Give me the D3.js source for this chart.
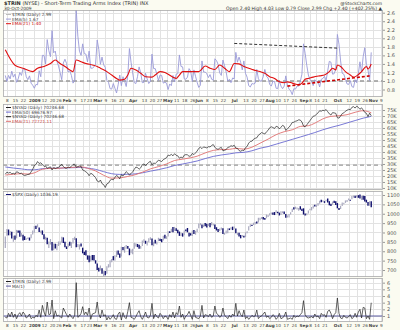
<!DOCTYPE html>
<html><head><meta charset="utf-8">
<script src="https://cdn.jsdelivr.net/npm/d3@7"></script>
<style>html,body{margin:0;padding:0;background:#fff}svg{display:block;font-family:"DejaVu Sans",Verdana,sans-serif}</style>
</head><body><svg id="c" width="400" height="330"></svg>
<script>
// ---------- categories ----------
const holidays = ["2008-12-25","2009-01-01","2009-01-19","2009-02-16","2009-04-10","2009-05-25","2009-07-03","2009-09-07"];
const firstDay = "2008-12-05", lastDataDay = "2009-10-30", lastAxisDay = "2009-11-10";
const tickDates = ["2008-12-08","2008-12-15","2008-12-22","2009-01-02","2009-01-12","2009-01-20","2009-01-26","2009-02-02","2009-02-09","2009-02-17","2009-02-23","2009-03-02","2009-03-09","2009-03-16","2009-03-23","2009-04-01","2009-04-13","2009-04-20","2009-04-27","2009-05-01","2009-05-11","2009-05-18","2009-05-26","2009-06-01","2009-06-08","2009-06-15","2009-06-22","2009-07-01","2009-07-13","2009-07-20","2009-07-27","2009-08-03","2009-08-10","2009-08-17","2009-08-24","2009-09-01","2009-09-08","2009-09-14","2009-09-21","2009-10-01","2009-10-12","2009-10-19","2009-10-26","2009-11-02","2009-11-09"];
const tickLabels = ["8","15","22","2009","12","20","26","Feb","9","17","23","Mar","9","16","23","Apr","13","20","27","May","11","18","26","Jun","8","15","22","Jul","13","20","27","Aug","10","17","24","Sep","8","14","21","Oct","12","19","26","Nov","9"];
const boldLabels = ["2009","Feb","Mar","Apr","May","Jun","Jul","Aug","Sep","Oct","Nov"];

// ---------- panel 1 / 4 : $TRIN ----------
const trinRaw = [0.8,0.7,1.4,0.9,1.6,0.8,1.3,0.6,1.2,1.5,
1.0,1.6,1.3,0.7,0.9,1.3,0.6,0.8,0.7,1.1,
0.9,1.9,0.8,2.6,1.6,1.0,3.1,1.2,1.3,3.4,
0.6,1.8,1.0,1.1,0.9,0.7,2.2,1.7,1.2,0.8,
1.3,0.9,0.6,1.1,6.0,0.8,1.0,1.4,2.4,1.2,
1.6,1.1,2.2,0.5,1.3,1.4,1.5,3.1,1.3,0.7,
1.9,1.0,1.2,0.4,0.9,0.5,0.8,1.2,0.6,0.5,
1.3,1.6,0.4,1.5,0.8,0.6,1.7,3.0,0.8,0.7,
0.5,0.9,1.4,1.8,0.9,0.5,1.0,1.6,0.8,0.7,
1.1,2.9,0.6,1.3,0.9,0.7,1.4,1.1,0.6,1.0,
0.9,0.5,1.2,0.8,1.6,0.7,1.5,1.2,2.5,0.8,
1.3,0.5,1.0,1.2,1.7,1.1,0.5,1.8,0.8,0.7,
0.6,1.0,2.6,0.7,1.2,1.1,0.9,1.3,0.8,1.0,
2.5,1.4,1.2,0.8,1.0,2.2,1.1,0.9,0.6,1.1,
0.8,1.3,1.0,2.9,1.0,1.8,1.2,0.9,1.9,0.6,
0.9,0.5,0.8,1.1,0.9,1.0,1.9,0.6,0.9,1.0,
1.3,1.6,0.8,1.0,0.6,0.8,1.2,1.0,0.5,0.8,
1.4,0.6,0.7,1.0,1.6,0.5,0.6,0.7,0.5,1.1,
0.8,1.0,0.9,1.2,1.5,3.3,1.2,0.8,0.7,0.8,
0.9,0.7,1.3,0.9,1.0,0.6,1.4,1.1,1.2,0.8,
1.7,1.9,1.4,0.6,1.2,1.5,3.7,1.4,0.7,0.6,
1.1,0.8,0.7,0.9,1.2,0.6,0.8,1.4,0.8,1.6,
2.0,0.7,2.3,2.2,0.6,1.0,0.5,2.99];
const trinEmaShort = [1.13,0.99,1.13,1.05,1.23,1.09,1.16,0.97,1.05,1.20,
1.13,1.29,1.29,1.10,1.03,1.12,0.95,0.90,0.83,0.92,
0.91,1.24,1.10,1.60,1.60,1.40,1.97,1.71,1.57,2.18,
1.66,1.70,1.47,1.35,1.20,1.03,1.42,1.51,1.41,1.21,
1.24,1.13,0.95,1.00,2.67,2.05,1.70,1.60,1.87,1.64,
1.63,1.45,1.70,1.30,1.30,1.33,1.39,1.96,1.74,1.39,
1.56,1.38,1.32,1.01,0.97,0.82,0.81,0.94,0.83,0.72,
0.91,1.14,0.89,1.10,1.00,0.87,1.14,1.76,1.44,1.19,
0.96,0.94,1.10,1.33,1.19,0.96,0.97,1.18,1.05,0.94,
0.99,1.63,1.29,1.29,1.16,1.01,1.14,1.13,0.95,0.97,
0.95,0.80,0.93,0.89,1.13,0.98,1.16,1.17,1.61,1.34,
1.33,1.05,1.04,1.09,1.29,1.23,0.99,1.26,1.11,0.97,
0.85,0.90,1.47,1.21,1.21,1.17,1.08,1.15,1.04,1.02,
1.52,1.48,1.39,1.19,1.13,1.49,1.36,1.21,1.00,1.04,
0.96,1.07,1.05,1.67,1.44,1.56,1.44,1.26,1.47,1.18,
1.09,0.89,0.86,0.94,0.93,0.95,1.27,1.05,1.00,1.00,
1.10,1.27,1.11,1.07,0.92,0.88,0.99,0.99,0.83,0.82,
1.01,0.88,0.82,0.88,1.12,0.91,0.81,0.77,0.68,0.82,
0.81,0.88,0.88,0.99,1.16,1.87,1.65,1.37,1.14,1.03,
0.99,0.89,1.03,0.99,0.99,0.86,1.04,1.06,1.11,1.01,
1.24,1.46,1.44,1.16,1.17,1.28,2.09,1.86,1.47,1.18,
1.16,1.04,0.93,0.92,1.01,0.87,0.85,1.03,0.96,1.17,
1.45,1.20,1.57,1.78,1.39,1.26,1.01,1.67];
const trinEmaLongDates = ["2008-12-05","2008-12-15","2008-12-22","2008-12-31","2009-01-06","2009-01-12","2009-01-16","2009-01-22","2009-01-27","2009-01-30","2009-02-04","2009-02-06","2009-02-10","2009-02-13","2009-02-19","2009-02-25","2009-03-02","2009-03-04","2009-03-10","2009-03-13","2009-03-18","2009-03-20","2009-03-25","2009-03-27","2009-03-31","2009-04-03","2009-04-08","2009-04-14","2009-04-20","2009-04-22","2009-04-27","2009-04-30","2009-05-04","2009-05-07","2009-05-11","2009-05-13","2009-05-15","2009-05-21","2009-05-28","2009-06-01","2009-06-05","2009-06-10","2009-06-15","2009-06-18","2009-06-23","2009-06-26","2009-07-01","2009-07-07","2009-07-10","2009-07-15","2009-07-20","2009-07-24","2009-07-29","2009-08-03","2009-08-06","2009-08-11","2009-08-14","2009-08-18","2009-08-21","2009-08-27","2009-08-31","2009-09-02","2009-09-04","2009-09-10","2009-09-16","2009-09-21","2009-09-24","2009-09-28","2009-09-30","2009-10-01","2009-10-05","2009-10-08","2009-10-13","2009-10-15","2009-10-19","2009-10-22","2009-10-27","2009-10-28","2009-10-30"];
const trinEmaLong = [1.73,1.37,1.30,1.22,1.30,1.34,1.41,1.49,1.41,1.34,1.26,1.22,1.49,1.45,1.41,1.375,1.34,1.30,1.22,1.14,1.06,1.02,1.04,1.14,1.30,1.26,1.18,1.10,1.09,1.14,1.22,1.20,1.16,1.09,1.06,1.14,1.22,1.22,1.22,1.22,1.35,1.30,1.27,1.375,1.30,1.22,1.41,1.40,1.34,1.30,1.26,1.22,1.18,1.10,1.06,0.98,0.96,0.98,0.95,0.91,0.95,1.04,1.06,1.09,1.12,1.14,1.22,1.30,1.26,1.375,1.34,1.22,1.14,1.09,1.12,1.22,1.34,1.28,1.40];
const trinTicks = [0.8,1.0,1.2,1.4,1.6,1.8,2.0,2.2,2.4,2.6];
const trinRawTicks = [1,2,3,4,5,6];
const trendBlack = [["2009-07-01",1.88],["2009-10-01",1.77]];
const trendRed = [["2009-08-18",0.88],["2009-10-29",1.12]];

// ---------- panel 2 : $NYAD cumulative (thousands) ----------
const nyad = [21.5,23.2,22.4,23.0,21.8,22.2,21.5,23.5,23.0,22.0,
22.3,21.0,20.4,20.8,21.3,21.4,23.4,25.6,28.6,29.6,
32.0,30.4,31.0,29.6,28.0,28.3,26.4,27.0,27.6,25.0,
27.0,26.2,26.8,27.2,28.2,29.8,28.0,26.6,26.4,27.4,
27.0,28.0,29.6,29.8,27.2,27.8,28.4,28.0,25.0,24.4,
23.4,22.4,20.2,22.2,21.6,20.0,18.6,15.8,15.0,16.6,
13.6,12.8,10.4,13.4,14.0,16.4,17.2,16.8,18.8,20.4,
19.4,17.6,21.0,20.0,21.6,23.6,22.4,20.8,22.0,23.4,
25.6,27.4,27.0,25.6,26.8,29.4,30.0,28.8,30.0,31.4,
32.2,29.2,30.8,30.4,31.6,33.2,32.6,32.0,33.6,34.4,
35.2,37.4,37.0,38.0,36.8,38.6,37.2,36.8,34.8,35.8,
35.0,37.4,37.8,37.6,36.4,36.6,38.8,37.8,39.2,40.8,
43.0,44.0,42.8,44.2,43.8,43.4,44.4,44.2,45.4,46.2,
44.0,42.6,42.2,43.2,43.8,41.0,41.4,42.0,43.8,44.2,
45.2,44.8,45.6,43.2,43.0,41.2,40.6,41.4,41.2,43.6,
44.6,47.4,48.8,49.0,50.6,51.4,51.8,54.0,55.0,56.2,
55.6,55.0,56.8,58.0,60.2,61.0,60.4,59.6,61.4,61.0,
59.2,60.6,62.2,61.4,58.0,59.4,60.6,62.4,64.6,64.8,
65.6,66.0,66.8,66.6,65.0,61.6,61.0,62.6,64.4,66.2,
68.0,69.8,70.2,71.4,72.6,74.4,74.0,74.8,74.4,75.4,
73.6,71.8,70.8,72.8,72.6,72.2,68.6,68.2,70.0,72.0,
72.6,74.0,74.8,75.6,75.2,77.2,77.8,76.6,78.2,77.2,
75.6,76.8,75.0,73.0,72.2,69.4,72.4,70.2];
const weekDates = ["2008-12-05","2008-12-12","2008-12-19","2008-12-26","2009-01-02","2009-01-09","2009-01-16","2009-01-23","2009-01-30","2009-02-06","2009-02-13","2009-02-20","2009-02-27","2009-03-06","2009-03-13","2009-03-20","2009-03-27","2009-04-03","2009-04-09","2009-04-17","2009-04-24","2009-05-01","2009-05-08","2009-05-15","2009-05-22","2009-05-29","2009-06-05","2009-06-12","2009-06-19","2009-06-26","2009-07-02","2009-07-10","2009-07-17","2009-07-24","2009-07-31","2009-08-07","2009-08-14","2009-08-21","2009-08-28","2009-09-04","2009-09-11","2009-09-18","2009-09-25","2009-10-02","2009-10-09","2009-10-16","2009-10-23","2009-10-30"];
const nyadEma21 = [20.8,21.4,21.9,21.6,22.6,25.6,26.3,26.3,26.9,27.2,27.6,26.4,24.2,20.6,18.2,18.4,19.6,21.2,23.1,25.9,27.8,30.0,32.9,34.0,35.2,36.5,39.2,41.3,42.0,42.2,43.0,42.4,44.0,47.3,50.7,54.4,56.9,58.5,61.3,61.9,64.0,67.6,69.7,70.2,71.1,73.1,74.4,72.7];
const nyadEma50 = [27.5,26.6,25.9,25.2,25.1,26.1,26.4,26.4,26.7,26.9,27.1,26.6,25.5,23.6,21.9,21.3,21.4,21.8,22.6,24.0,25.3,26.8,28.7,30.0,31.3,32.5,34.5,36.3,37.5,38.4,39.3,39.7,41.0,43.1,44.5,46.5,48.5,50.5,52.5,54.5,56.2,58.5,60.5,62.2,64.2,66.2,68.2,69.7];
const nyadTicks = [10,15,20,25,30,35,40,45,50,55,60,65,70,75];
const nyadRefLine = 29;

// ---------- panel 3 : $SPX ----------
const spxClose = [876.07,909.70,888.67,899.24,873.59,879.73,868.57,913.18,904.42,885.28,
887.88,871.63,863.16,868.15,872.80,869.42,890.64,903.25,931.80,927.45,
934.70,906.65,909.73,890.35,870.26,871.79,842.62,843.74,850.12,805.22,
840.24,827.50,831.95,836.57,845.71,874.09,845.14,825.88,825.44,838.51,
832.23,845.85,868.60,869.89,827.16,833.74,835.19,826.84,789.17,788.42,
778.94,770.05,743.33,773.14,764.90,752.83,735.09,700.82,696.33,712.87,
682.55,683.38,676.53,719.60,721.36,750.74,756.55,753.89,778.12,794.35,
784.04,768.54,822.92,806.12,813.88,832.86,815.94,787.53,797.87,811.08,
834.38,842.50,835.48,815.55,825.16,856.56,858.73,841.50,852.06,865.30,
869.60,832.39,850.08,843.55,851.92,866.23,857.51,855.16,873.64,872.81,
877.52,907.24,903.80,919.53,907.39,929.23,909.24,908.35,883.92,893.07,
882.88,909.71,908.13,903.47,888.33,887.00,910.33,893.06,906.83,919.14,
942.87,944.74,931.76,942.46,940.09,939.14,942.43,939.15,944.89,946.21,
923.72,911.97,910.71,918.37,921.23,893.04,895.10,900.94,920.26,918.90,
927.23,919.32,923.33,896.42,898.72,881.03,879.56,882.68,879.13,901.05,
905.84,932.68,940.74,940.38,951.13,954.58,954.07,976.29,979.26,982.18,
979.62,975.15,986.75,987.48,1002.63,1005.65,1002.72,997.08,1010.48,1007.10,
994.35,1005.81,1012.73,1004.09,979.73,989.67,996.46,1007.37,1026.13,1025.57,
1028.00,1028.12,1030.98,1028.93,1020.62,998.04,994.75,1003.24,1016.40,1025.39,
1033.37,1044.14,1042.73,1049.34,1052.63,1068.76,1065.49,1068.30,1064.66,1071.66,
1060.87,1050.78,1044.38,1062.98,1060.61,1057.08,1029.85,1025.21,1040.46,1054.72,
1057.58,1065.48,1071.49,1076.19,1073.19,1092.02,1096.56,1087.68,1097.91,1091.06,
1081.40,1092.91,1079.60,1066.95,1063.41,1042.63,1066.11,1036.19];
const spxHigh = [879,918,916,908,904,883,884,914,911,911,
897,888,880,869,873,873,891,911,934,936,
944,927,911,911,891,877,872,852,865,850,
841,840,839,852,852,877,874,851,826,842,
851,850,871,878,869,839,836,841,819,797,
806,778,777,776,780,780,752,735,712,724,
709,693,695,720,731,752,759,774,779,803,
804,788,824,823,826,833,828,815,810,813,
845,843,839,835,828,857,864,856,853,870,
875,868,851,862,852,872,867,865,883,888,
880,907,907,920,929,930,923,915,905,898,
896,910,916,924,898,896,911,913,909,920,
948,950,942,943,951,946,947,950,956,947,
942,928,918,921,927,922,898,911,922,922,
928,931,932,921,899,898,887,887,883,901,
906,933,944,941,952,956,959,979,979,983,
982,977,996,993,1003,1006,1007,1009,1018,1011,
1006,1013,1013,1012,998,991,999,1008,1027,1035,
1038,1033,1031,1040,1026,1029,1001,1003,1017,1026,
1036,1044,1048,1050,1057,1069,1075,1072,1067,1074,
1081,1067,1053,1065,1069,1066,1057,1031,1043,1060,
1058,1071,1073,1081,1075,1094,1097,1096,1098,1099,
1102,1095,1096,1095,1075,1063,1067,1066];
const spxLow = [818,883,885,885,868,851,862,869,898,877,
879,858,860,861,866,857,870,889,899,919,
927,902,896,888,864,862,837,818,836,804,
806,815,805,828,835,846,844,821,812,821,
829,818,841,860,822,823,809,826,789,780,
777,755,742,745,752,751,734,700,692,698,
680,667,672,680,713,715,741,752,749,769,
782,766,772,805,792,814,814,779,790,784,
814,826,822,814,814,828,845,840,831,848,
860,832,827,841,836,854,855,848,857,868,
866,879,897,903,901,909,908,896,882,882,
878,886,906,901,879,884,881,892,888,903,
923,938,923,929,933,927,935,928,939,937,
919,911,903,908,915,892,888,895,896,913,
916,913,920,896,886,879,869,878,873,875,
896,910,929,934,940,942,948,953,965,972,
969,968,976,982,990,997,995,993,1002,1002,
991,993,1003,999,979,980,980,996,1009,1023,
1026,1022,1016,1022,1015,996,991,992,1001,1018,
1018,1028,1039,1036,1043,1053,1061,1064,1058,1066,
1060,1045,1041,1048,1057,1046,1029,1020,1025,1041,
1050,1058,1063,1072,1069,1077,1086,1084,1086,1085,
1081,1073,1075,1065,1060,1042,1043,1034];
const spxTicks = [700,750,800,850,900,950,1000,1050,1100];

// ---------- build ----------
const parse = d3.utcParse("%Y-%m-%d"), fmt = d3.utcFormat("%Y-%m-%d");
const days = [];
for (let d = parse(firstDay); d <= parse(lastAxisDay); d = d3.utcDay.offset(d, 1)) {
  const wd = d.getUTCDay(), s = fmt(d);
  if (wd === 0 || wd === 6 || holidays.includes(s)) continue;
  days.push(s);
}
const idx = new Map(days.map((s, i) => [s, i]));
const nData = idx.get(lastDataDay) + 1;
const dataIdx = d3.range(nData);

const svg = d3.select("#c");
const L = 3, R = 383;
const x = d3.scaleLinear().domain([-1.43, 234.3]).range([L, R]);

const P = [
  {top: 10, bottom: 97},
  {top: 104, bottom: 190},
  {top: 191, bottom: 277},
  {top: 278, bottom: 322}
];
const y1 = d3.scaleLinear().domain([0.625, 2.663]).range([P[0].bottom, P[0].top]);
const y2 = d3.scaleLinear().domain([8.3, 80]).range([P[1].bottom, P[1].top]);
const y3 = d3.scaleLinear().domain([662.7, 1121.3]).range([P[2].bottom, P[2].top]);
const y4 = d3.scaleLinear().domain([0.1, 6.7]).range([P[3].bottom, P[3].top]);

// background
svg.append("rect").attr("width", 400).attr("height", 330).attr("fill", "#fbfbf1");

const defs = svg.append("defs");
P.forEach((p, k) => {
  defs.append("clipPath").attr("id", "clip" + k).append("rect")
    .attr("x", L).attr("y", p.top).attr("width", R - L).attr("height", p.bottom - p.top);
});

const gridC = "#e2e2e2";
function panelFrame(k, yScale, ticks, fmtTick) {
  const p = P[k];
  const g = svg.append("g");
  g.append("rect").attr("x", L).attr("y", p.top).attr("width", R - L).attr("height", p.bottom - p.top).attr("fill", "#fff");
  g.selectAll(".vg").data(tickDates).join("line")
    .attr("x1", d => Math.round(x(idx.get(d))) + 0.5).attr("x2", d => Math.round(x(idx.get(d))) + 0.5)
    .attr("y1", p.top).attr("y2", p.bottom).attr("stroke", gridC).attr("stroke-width", 1);
  const tk = ticks.filter(t => yScale(t) > p.top + 1 && yScale(t) < p.bottom - 0.5);
  g.selectAll(".hg").data(tk).join("line")
    .attr("x1", L).attr("x2", R)
    .attr("y1", d => Math.round(yScale(d)) + 0.5).attr("y2", d => Math.round(yScale(d)) + 0.5)
    .attr("stroke", gridC);
  const ax = svg.append("g").attr("transform", `translate(${R},0)`)
    .call(d3.axisRight(yScale).tickValues(tk).tickSize(2).tickFormat(fmtTick));
  ax.select(".domain").remove();
  ax.selectAll("line").attr("stroke", "#999");
  ax.selectAll("text").attr("font-size", 5).attr("fill", "#555").attr("x", 4)
    .attr("font-family", "DejaVu Sans, sans-serif");
}
panelFrame(0, y1, trinTicks, d3.format(".1f"));
panelFrame(1, y2, nyadTicks, d => d + "K");
panelFrame(2, y3, spxTicks, d3.format("d"));
panelFrame(3, y4, trinRawTicks, d3.format("d"));

// date axes
function dateAxis(yPos) {
  const ax = svg.append("g").attr("transform", `translate(0,${yPos})`)
    .call(d3.axisBottom(x).tickValues(tickDates.map(d => idx.get(d))).tickSize(0)
      .tickFormat((d, i) => tickLabels[i]));
  ax.select(".domain").remove();
  ax.selectAll("text").attr("font-size", 4.2).attr("fill", "#444").attr("dy", 0)
    .attr("font-family", "DejaVu Sans, sans-serif")
    .attr("font-weight", (d, i) => boldLabels.includes(tickLabels[i]) ? "bold" : "normal")
    .attr("dx", (d, i) => tickLabels[i] === "27" && i === 18 ? -1 : (tickLabels[i] === "May" ? 0.8 : 0));
}
dateAxis(98.5);
dateAxis(323.5);

// ---- panel 1 ----
const g1 = svg.append("g").attr("clip-path", "url(#clip0)");
g1.append("line").attr("x1", L).attr("x2", R).attr("y1", y1(1)).attr("y2", y1(1))
  .attr("stroke", "#999").attr("stroke-width", 1.3).attr("stroke-dasharray", "4,3");
g1.append("path").datum(dataIdx)
  .attr("d", d3.line().x(i => x(i)).y(i => y1(trinEmaShort[i])))
  .attr("fill", "none").attr("stroke", "#9a9ad8").attr("stroke-width", 0.9);
g1.append("path").datum(trinEmaLongDates.map((d, k) => [idx.get(d), trinEmaLong[k]]))
  .attr("d", d3.line().x(d => x(d[0])).y(d => y1(d[1])).curve(d3.curveMonotoneX))
  .attr("fill", "none").attr("stroke", "#e01010").attr("stroke-width", 1.1);
g1.append("path").datum(trendBlack)
  .attr("d", d3.line().x(d => x(idx.get(d[0]))).y(d => y1(d[1])))
  .attr("stroke", "#333").attr("stroke-width", 1).attr("stroke-dasharray", "3,2");
g1.append("path").datum(trendRed)
  .attr("d", d3.line().x(d => x(idx.get(d[0]))).y(d => y1(d[1])))
  .attr("stroke", "#d00000").attr("stroke-width", 1.6).attr("stroke-dasharray", "3,2");

// ---- panel 2 ----
const g2 = svg.append("g").attr("clip-path", "url(#clip1)");
g2.append("line").attr("x1", L).attr("x2", R).attr("y1", y2(nyadRefLine)).attr("y2", y2(nyadRefLine))
  .attr("stroke", "#999").attr("stroke-width", 1.2).attr("stroke-dasharray", "4,3");
const wk = weekDates.map(d => idx.get(d));
g2.append("path").datum(wk.map((i, k) => [i, nyadEma50[k]]))
  .attr("d", d3.line().x(d => x(d[0])).y(d => y2(d[1])).curve(d3.curveMonotoneX))
  .attr("fill", "none").attr("stroke", "#6a6ad0").attr("stroke-width", 0.9);
g2.append("path").datum(wk.map((i, k) => [i, nyadEma21[k]]))
  .attr("d", d3.line().x(d => x(d[0])).y(d => y2(d[1])).curve(d3.curveMonotoneX))
  .attr("fill", "none").attr("stroke", "#e07070").attr("stroke-width", 0.9);
g2.append("path").datum(dataIdx)
  .attr("d", d3.line().x(i => x(i)).y(i => y2(nyad[i])))
  .attr("fill", "none").attr("stroke", "#222").attr("stroke-width", 0.7);

// ---- panel 3 ----
const g3 = svg.append("g").attr("clip-path", "url(#clip2)");
g3.selectAll("line.bar").data(dataIdx).join("line")
  .attr("x1", i => x(i)).attr("x2", i => x(i))
  .attr("y1", i => y3(spxHigh[i])).attr("y2", i => y3(spxLow[i]))
  .attr("stroke", i => (i > 0 && spxClose[i] < spxClose[i - 1]) ? "#10106e" : "#a9a9bf")
  .attr("stroke-width", i => (i > 0 && spxClose[i] < spxClose[i - 1]) ? 1.4 : 1.2);

// ---- panel 4 ----
const g4 = svg.append("g").attr("clip-path", "url(#clip3)");
g4.append("line").attr("x1", L).attr("x2", R).attr("y1", y4(1)).attr("y2", y4(1))
  .attr("stroke", "#5a5aa0").attr("stroke-width", 1);
g4.append("path").datum(dataIdx)
  .attr("d", d3.line().x(i => x(i)).y(i => y4(trinRaw[i])))
  .attr("fill", "none").attr("stroke", "#222").attr("stroke-width", 0.7);

// panel borders
P.forEach(p => svg.append("rect").attr("x", L + 0.5).attr("y", p.top + 0.5)
  .attr("width", R - L - 1).attr("height", p.bottom - p.top - 1)
  .attr("fill", "none").attr("stroke", "#aaa").attr("stroke-width", 0.8));

// ---- texts ----
const T = svg.append("g").attr("font-family", "DejaVu Sans, sans-serif").attr("fill", "#333");
T.append("text").attr("x", 4).attr("y", 5).attr("font-size", 5)
  .html('<tspan font-weight="bold">$TRIN</tspan> (NYSE) - Short-Term Trading Arms Index (TRIN) INX');
T.append("text").attr("x", 4).attr("y", 10).attr("font-size", 4.4).text("30-Oct-2009");
T.append("text").attr("x", 382).attr("y", 5).attr("font-size", 4.4).attr("text-anchor", "end").text("@StockCharts.com");
T.append("text").attr("x", 382).attr("y", 10).attr("font-size", 4.6).attr("text-anchor", "end")
  .text("Open 2.40  High 4.03  Low 0.79  Close 2.99  Chg +2.40 (+402.25%) \u25B2");

function legend(x0, y0, items) {
  items.forEach((it, k) => {
    const yy = y0 + k * 4.6;
    T.append("line").attr("x1", x0).attr("x2", x0 + 5).attr("y1", yy - 1.5).attr("y2", yy - 1.5)
      .attr("stroke", it.c).attr("stroke-width", 1);
    T.append("text").attr("x", x0 + 6).attr("y", yy).attr("font-size", 4.3).attr("fill", it.t || "#444").text(it.s);
  });
}
legend(6, 16, [{s: "$TRIN (Daily) 2.99", c: "#bbb"}, {s: "EMA(5) 1.67", c: "#9a9ad8"}, {s: "EMA(21) 1.40", c: "#e01010", t: "#c00"}]);
legend(6, 109, [{s: "$NYAD (Daily) 70246.68", c: "#222"}, {s: "EMA(50) 69676.97", c: "#6a6ad0"}, {s: "$NYAD (Daily) 70246.68", c: "#222"}, {s: "EMA(21) 72721.11", c: "#e07070", t: "#c44"}]);
legend(6, 196, [{s: "$SPX (Daily) 1036.19", c: "#10106e"}]);
legend(6, 283, [{s: "$TRIN (Daily) 2.99", c: "#222"}, {s: "MA(1)", c: "#5a5aa0"}]);
</script>
</body></html>
